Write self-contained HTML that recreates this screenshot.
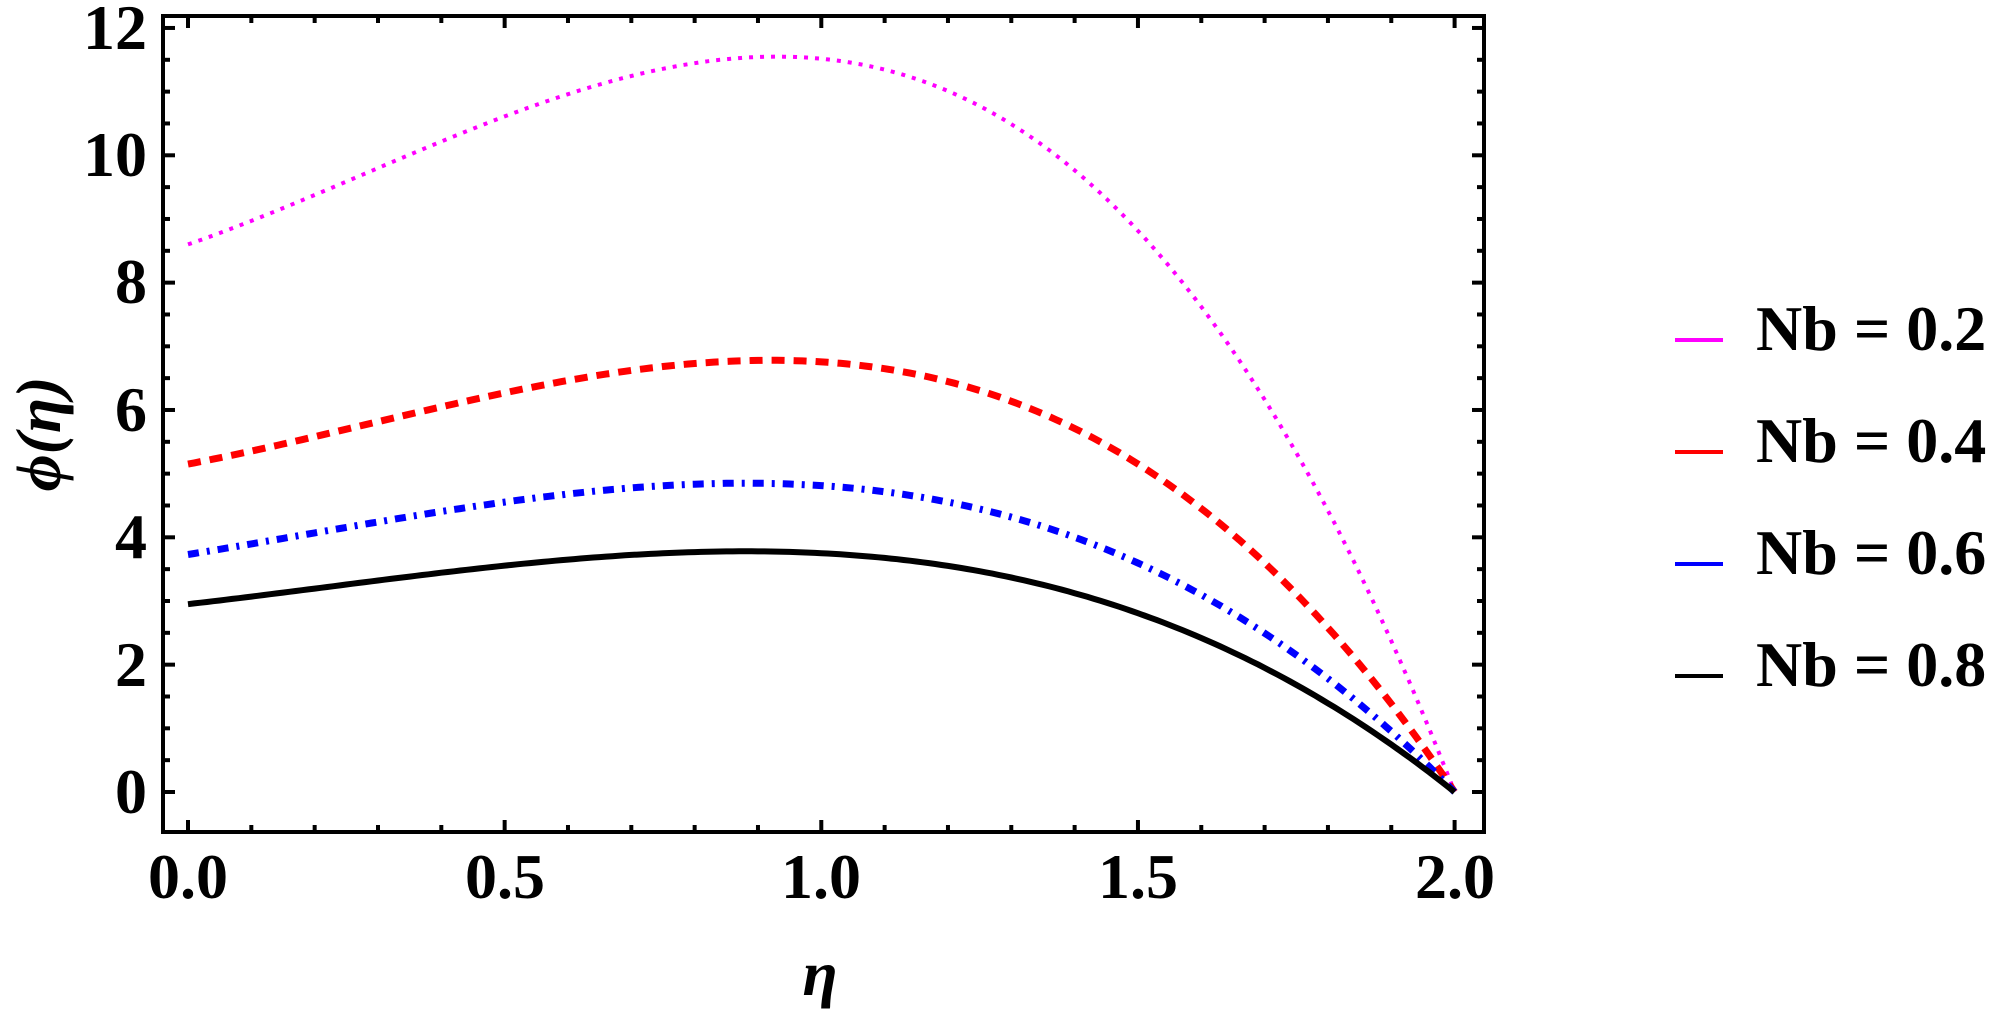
<!DOCTYPE html>
<html><head><meta charset="utf-8">
<style>
html,body{margin:0;padding:0;background:#fff;}
svg{display:block;}
text{font-family:"Liberation Serif",serif;font-weight:bold;fill:#000;}
</style></head>
<body>
<svg id="s" width="2008" height="1016" viewBox="0 0 2008 1016" xmlns="http://www.w3.org/2000/svg">
<rect x="163" y="16" width="1321" height="816" fill="none" stroke="#000" stroke-width="4"/>
<g id="ticks" stroke="#000"></g>
<g id="curves" fill="none"></g>
<g font-size="64">
<text x="147" y="813" text-anchor="end">0</text>
<text x="147" y="686" text-anchor="end">2</text>
<text x="147" y="558" text-anchor="end">4</text>
<text x="147" y="431" text-anchor="end">6</text>
<text x="147" y="303" text-anchor="end">8</text>
<text x="147" y="176" text-anchor="end">10</text>
<text x="147" y="49" text-anchor="end">12</text>
<text x="188" y="898" text-anchor="middle">0.0</text>
<text x="505" y="898" text-anchor="middle">0.5</text>
<text x="821" y="898" text-anchor="middle">1.0</text>
<text x="1138" y="898" text-anchor="middle">1.5</text>
<text x="1455" y="898" text-anchor="middle">2.0</text>
<text x="820" y="995" text-anchor="middle" font-style="italic">η</text>
<text transform="translate(60,434) rotate(-90)" text-anchor="middle" font-style="italic">ϕ(η)</text>
<text x="1756" y="350">Nb = 0.2</text>
<text x="1756" y="462">Nb = 0.4</text>
<text x="1756" y="574">Nb = 0.6</text>
<text x="1756" y="686">Nb = 0.8</text>
</g>
<g stroke-width="4">
<line x1="1675" y1="340" x2="1723" y2="340" stroke="#ff00ff"/>
<line x1="1675" y1="452" x2="1723" y2="452" stroke="#ff0000"/>
<line x1="1675" y1="564" x2="1723" y2="564" stroke="#0000ff"/>
<line x1="1675" y1="676" x2="1723" y2="676" stroke="#000"/>
</g>
</svg>
<script>
(function(){
var NS="http://www.w3.org/2000/svg";
function X(v){return 188+633.3*v;}
function Y(v){return 792-63.67*v;}
var t=document.getElementById('ticks'),h='';
for(var i=0;i<=24;i++){var v=i*0.5,y=Y(v),L=(i%4==0)?12:7;
 if(y<18||y>830)continue;
 h+='<line x1="163" y1="'+y+'" x2="'+(163+L)+'" y2="'+y+'" stroke-width="4"/>';
 h+='<line x1="1484" y1="'+y+'" x2="'+(1484-L)+'" y2="'+y+'" stroke-width="4"/>';}
for(var i=0;i<=20;i++){var x=X(i*0.1),L=(i%5==0)?12:7;
 h+='<line x1="'+x+'" y1="832" x2="'+x+'" y2="'+(832-L)+'" stroke-width="4"/>';
 h+='<line x1="'+x+'" y1="16" x2="'+x+'" y2="'+(16+L)+'" stroke-width="4"/>';}
t.innerHTML=h;
function solve(A,p,M){
 // f=A+bx+cx^2+dx^3 ; f(2)=0, f(p)=M, f'(p)=0
 var m=[[2,4,8,-A],[p,p*p,p*p*p,M-A],[1,2*p,3*p*p,0]];
 for(var i=0;i<3;i++){var piv=i;for(var k=i+1;k<3;k++)if(Math.abs(m[k][i])>Math.abs(m[piv][i]))piv=k;
  var tmp=m[i];m[i]=m[piv];m[piv]=tmp;
  for(var k=0;k<3;k++){if(k==i)continue;var f=m[k][i]/m[i][i];for(var j=i;j<4;j++)m[k][j]-=f*m[i][j];}}
 return [m[0][3]/m[0][0],m[1][3]/m[1][1],m[2][3]/m[2][2]];
}
var S=[
 [8.6,0.93,11.55,'#ff00ff',4,'4 7'],
 [5.15,0.92,6.78,'#ff0000',7,'13 9'],
 [3.73,0.88,4.85,'#0000ff',7,'11 8 3 8'],
 [2.95,0.88,3.78,'#000000',6,'']
];
var c=document.getElementById('curves'),o='';
S.forEach(function(s){var k=solve(s[0],s[1],s[2]),d='';
 for(var i=0;i<=200;i++){var x=i/100,v=s[0]+k[0]*x+k[1]*x*x+k[2]*x*x*x;
  d+=(i?'L':'M')+X(x).toFixed(1)+' '+Y(v).toFixed(1);}
 o+='<path d="'+d+'" stroke="'+s[3]+'" stroke-width="'+s[4]+'"'+(s[5]?' stroke-dasharray="'+s[5]+'"':'')+'/>';});
c.innerHTML=o;
})();
</script>
</body></html>
